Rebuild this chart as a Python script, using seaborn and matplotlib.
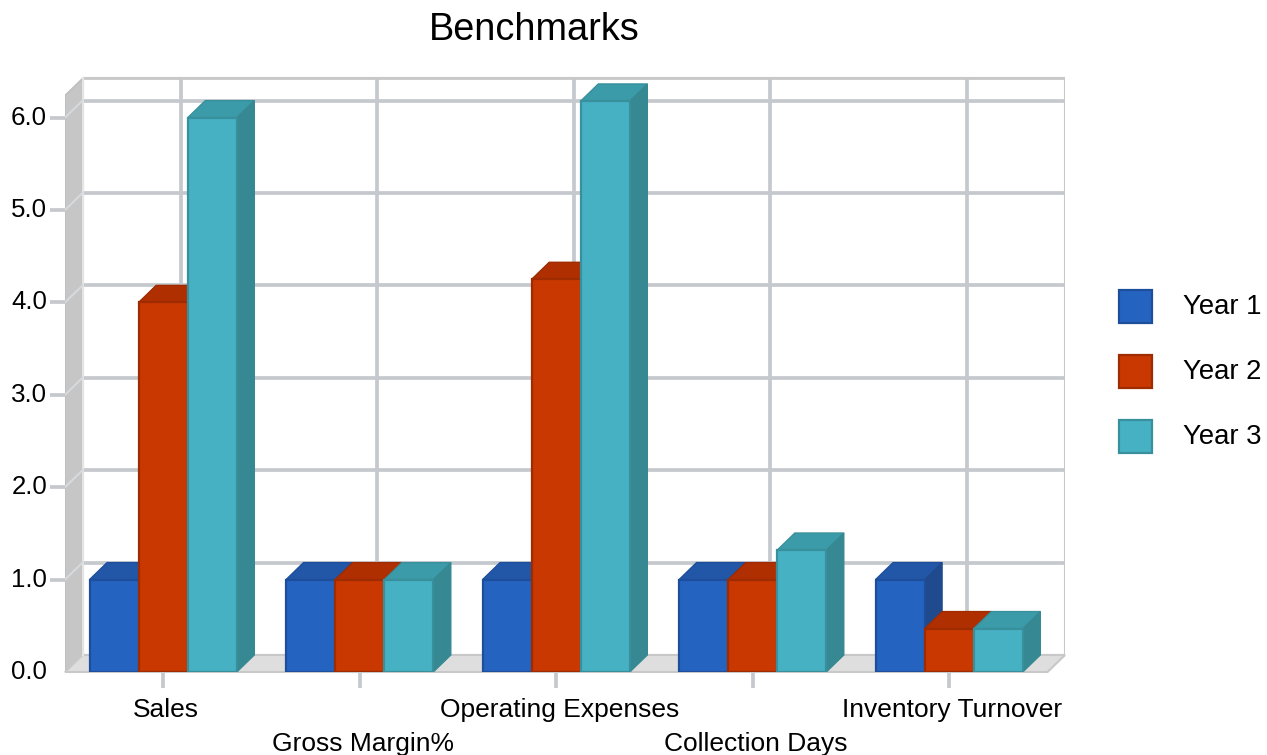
import matplotlib
matplotlib.use("Agg")
import matplotlib.pyplot as plt
from matplotlib.patches import Polygon, Rectangle
import seaborn as sns
import pandas as pd

categories = ["Sales", "Gross Margin%", "Operating Expenses", "Collection Days", "Inventory Turnover"]
series_names = ["Year 1", "Year 2", "Year 3"]
year1 = [1.0, 1.0, 1.0, 1.0, 1.0]
year2 = [4.0, 1.0, 4.25, 1.0, 0.47]
year3 = [6.0, 1.0, 6.18, 1.32, 0.47]
y_ticks = [0, 1, 2, 3, 4, 5, 6]
y_tick_labels = ["0.0", "1.0", "2.0", "3.0", "4.0", "5.0", "6.0"]
title = "Benchmarks"

front_colors = ["#2563c1", "#c93800", "#47b1c4"]
edge_colors = ["#1d4e9c", "#9e2c00", "#37909c"]
top_colors = ["#2257a8", "#b02f00", "#3b9ba9"]
side_colors = ["#1f4b8e", "#972800", "#368892"]

plt.rcParams["font.family"] = ["Liberation Sans", "DejaVu Sans"]

W, H = 1267, 755
fig = plt.figure(figsize=(W / 100, H / 100), dpi=100)
fig.patch.set_facecolor("white")

# axes placement in pixels
left_px, right_px, bottom_px, top_px = 65, 1065, 672, 75
ax = fig.add_axes([left_px / W, (H - bottom_px) / H, (right_px - left_px) / W, (bottom_px - top_px) / H])
px_per_cat = 196.5
px_per_val = 92.4
ax.set_xlim(-0.5, -0.5 + (right_px - left_px) / px_per_cat)
ax.set_ylim(0, (bottom_px - top_px) / px_per_val)

dx = 17.5 / px_per_cat
dy = 17.0 / px_per_val
x0, x1 = -0.5, 4.5
ytop = 6.24
grid_c = "#c5c9cd"

# back plane
ax.add_patch(Polygon([(x0 + dx, dy), (x1 + dx, dy), (x1 + dx, ytop + dy), (x0 + dx, ytop + dy)],
                     closed=True, facecolor="white", edgecolor="#c8c8c8", lw=1.5, zorder=0))
# horizontal gridlines (back plane)
for v in y_ticks[1:]:
    ax.plot([x0 + dx, x1 + dx], [v + dy, v + dy], color=grid_c, lw=2.7, zorder=0.5, solid_capstyle="butt")
# vertical gridlines (back plane)
for i in range(len(categories)):
    ax.plot([i + dx, i + dx], [dy, ytop + dy], color=grid_c, lw=2.7, zorder=0.5, solid_capstyle="butt")
# top border
ax.plot([x0 + dx, x1 + dx], [ytop + dy, ytop + dy], color="#c8c8c8", lw=2.0, zorder=0.6)
ax.plot([x1 + dx, x1 + dx], [dy, ytop + dy], color="#c8c8c8", lw=2.0, zorder=0.6)

# left wall
ax.add_patch(Polygon([(x0, 0), (x0 + dx, dy), (x0 + dx, ytop + dy), (x0, ytop)],
                     closed=True, facecolor="#c6c6c6", edgecolor="#bdbdbd", lw=1.0, zorder=0.7))
ax.plot([x0 + dx, x0 + dx], [dy, ytop + dy], color="#e4e4e4", lw=1.5, zorder=0.8)
# floor
ax.add_patch(Polygon([(x0, 0), (x1, 0), (x1 + dx, dy), (x0 + dx, dy)],
                     closed=True, facecolor="#dedede", edgecolor="#c8c8c8", lw=1.5, zorder=0.7,
                     clip_on=False))

# y ticks: short stub + diagonal across wall
stub = 15 / px_per_cat
for v, lab in zip(y_ticks, y_tick_labels):
    if v > 0:
        ax.plot([x0 - stub, x0], [v, v], color=grid_c, lw=2.7, zorder=1, clip_on=False, solid_capstyle="butt")
        ax.plot([x0, x0 + dx], [v, v + dy], color="#d6dadd", lw=1.5, zorder=1)
    ax.text(x0 - 18 / px_per_cat, v, lab, ha="right", va="center", fontsize=18.6, color="black", clip_on=False)

# x tick stubs and labels
for i, cat in enumerate(categories):
    ax.plot([i, i], [0, -16 / px_per_val], color=grid_c, lw=2.7, zorder=1, clip_on=False, solid_capstyle="butt")
    yl = -(710 - 672) / px_per_val if i % 2 == 0 else -(744 - 672) / px_per_val
    ax.text(i + 3 / px_per_cat, yl, cat, ha="center", va="center", fontsize=19, color="black", clip_on=False)

# bars via seaborn
df = pd.DataFrame({
    "category": categories * 3,
    "year": [s for s in series_names for _ in categories],
    "value": year1 + year2 + year3,
})
sns.barplot(data=df, x="category", y="value", hue="year", order=categories, hue_order=series_names,
            palette=front_colors, width=0.75, gap=0, saturation=1, legend=False, ax=ax, zorder=2)

ax.set_xlim(-0.5, -0.5 + (right_px - left_px) / px_per_cat)
ax.set_ylim(0, (bottom_px - top_px) / px_per_val)

# 3D faces derived from the seaborn bar patches
bars_by_cat = []
for k, cont in enumerate(ax.containers):
    for j, bar in enumerate(cont.patches):
        bars_by_cat.append((j, k, bar))
bars_by_cat.sort(key=lambda t: (t[0], t[1]))
z = 3
for j, k, bar in bars_by_cat:
    bx, bw, bh = bar.get_x(), bar.get_width(), bar.get_height()
    bar.set_facecolor(front_colors[k])
    bar.set_edgecolor(edge_colors[k])
    bar.set_linewidth(1.6)
    bar.set_zorder(z + 2)
    top = Polygon([(bx, bh), (bx + bw, bh), (bx + bw + dx, bh + dy), (bx + dx, bh + dy)], closed=True,
                  facecolor=top_colors[k], edgecolor=edge_colors[k], lw=1.0, zorder=z)
    side = Polygon([(bx + bw, 0), (bx + bw + dx, dy), (bx + bw + dx, bh + dy), (bx + bw, bh)], closed=True,
                   facecolor=side_colors[k], edgecolor=side_colors[k], lw=0.8, zorder=z + 1)
    ax.add_patch(side)
    ax.add_patch(top)
    z += 3

ax.axis("off")

# title
fig.text(534 / W, 1 - 30 / H, title, ha="center", va="center", fontsize=27.3, color="black")

# legend
for k, name in enumerate(series_names):
    cy = [307, 372, 437][k]
    fig.patches.append(Rectangle((1119 / W, 1 - (cy + 16) / H), 33 / W, 33 / H, transform=fig.transFigure,
                                 facecolor=front_colors[k], edgecolor=edge_colors[k], lw=1.6))
    fig.text(1183 / W, 1 - cy / H, name, ha="left", va="center", fontsize=19.8, color="black")

fig.savefig("out.png", dpi=100, facecolor="white")
